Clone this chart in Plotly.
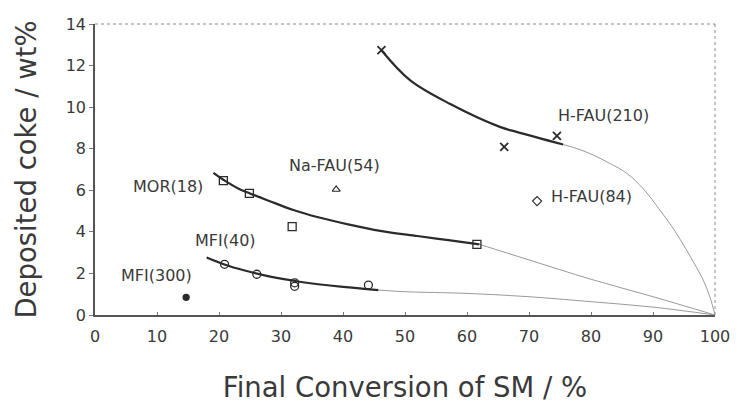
import plotly.graph_objects as go

# ---- data ----
hfau210_x = [46.2, 66.0, 74.5]
hfau210_y = [12.74, 8.09, 8.62]
mor18_x = [20.7, 24.9, 31.8, 61.6]
mor18_y = [6.46, 5.85, 4.25, 3.40]
mfi40_x = [20.9, 26.1, 32.2, 32.2, 44.1]
mfi40_y = [2.44, 1.96, 1.55, 1.38, 1.44]
nafau54_x = [38.9]
nafau54_y = [6.04]
hfau84_x = [71.3]
hfau84_y = [5.48]
mfi300_x = [14.7]
mfi300_y = [0.85]

# fitted trend curves (thick) and extrapolations to 100 % (thin)
hfau_fit_x = [46.2, 50.8, 57.3, 65.3, 68.0, 75.5]
hfau_fit_y = [12.74, 11.3, 10.15, 9.05, 8.81, 8.2]
hfau_ext_x = [75.5, 78.0, 80.4, 83.0, 85.8, 88.5, 91.1, 93.3, 95.4, 97.0, 98.1, 99.2, 100]
hfau_ext_y = [8.2, 7.98, 7.69, 7.3, 6.81, 6.05, 5.05, 4.15, 3.13, 2.3, 1.68, 0.85, 0]
mor_fit_x = [19.1, 21, 23, 25, 28, 32, 36, 41, 46, 52, 57, 62]
mor_fit_y = [6.84, 6.45, 6.1, 5.85, 5.5, 5.05, 4.7, 4.35, 4.05, 3.8, 3.6, 3.4]
mor_ext_x = [62, 70, 80, 90, 100]
mor_ext_y = [3.4, 2.65, 1.72, 0.88, 0]
mfi_fit_x = [18, 21, 24, 27, 30, 33, 36, 40, 45.7]
mfi_fit_y = [2.77, 2.42, 2.15, 1.93, 1.75, 1.6, 1.48, 1.35, 1.2]
mfi_ext_x = [45.7, 50, 60, 70, 80, 90, 100]
mfi_ext_y = [1.2, 1.12, 1.04, 0.88, 0.64, 0.38, 0]

labels = ["H-FAU(210)", "MOR(18)", "MFI(40)", "Na-FAU(54)", "H-FAU(84)", "MFI(300)"]
label_x = [82.0, 11.8, 21.0, 38.7, 80.1, 9.9]
label_y = [9.62, 6.17, 3.6, 7.2, 5.69, 1.92]

FONT = "DejaVu Sans"
DARK = "#2b2b2b"
THIN = "#9a9a9a"
TXT = "#3a3a3a"

fig = go.Figure()

for xs, ys in [(hfau_ext_x, hfau_ext_y), (mor_ext_x, mor_ext_y), (mfi_ext_x, mfi_ext_y)]:
    fig.add_trace(go.Scatter(x=xs, y=ys, mode="lines", line=dict(color=THIN, width=1, shape="spline"),
                             showlegend=False, hoverinfo="skip"))
for xs, ys in [(hfau_fit_x, hfau_fit_y), (mor_fit_x, mor_fit_y), (mfi_fit_x, mfi_fit_y)]:
    fig.add_trace(go.Scatter(x=xs, y=ys, mode="lines", line=dict(color=DARK, width=2.2, shape="spline"),
                             showlegend=False, hoverinfo="skip"))

def pts(xs, ys, symbol, size, name, width=1.3):
    fig.add_trace(go.Scatter(x=xs, y=ys, mode="markers", name=name, showlegend=False,
                             marker=dict(symbol=symbol, size=size, color=DARK,
                                         line=dict(color=DARK, width=width))))

fig.add_trace(go.Scatter(x=hfau210_x, y=hfau210_y, mode="markers", showlegend=False, name="H-FAU(210)",
                         marker=dict(symbol="x-thin", size=8, line=dict(color=DARK, width=1.8))))
pts(mor18_x, mor18_y, "square-open", 8, "MOR(18)")
pts(mfi40_x, mfi40_y, "circle-open", 8, "MFI(40)")
pts(nafau54_x, nafau54_y, "triangle-up-open", 7, "Na-FAU(54)", 1.1)
pts(hfau84_x, hfau84_y, "diamond-open", 7, "H-FAU(84)", 1.1)
pts(mfi300_x, mfi300_y, "circle", 6, "MFI(300)")

for t, x, y in zip(labels, label_x, label_y):
    fig.add_annotation(x=x, y=y, text=t, showarrow=False, xanchor="center", yanchor="middle",
                       font=dict(family=FONT, size=16, color=TXT))

# dotted top and right frame
fig.add_shape(type="line", xref="paper", yref="paper", x0=0, x1=1, y0=1, y1=1,
              line=dict(color="#8a8a8a", width=1, dash="dot"))
fig.add_shape(type="line", xref="paper", yref="paper", x0=1, x1=1, y0=0, y1=1,
              line=dict(color="#8a8a8a", width=1, dash="dot"))

fig.update_layout(
    width=744, height=403,
    margin=dict(l=95, r=29, t=24, b=88),
    paper_bgcolor="white", plot_bgcolor="white",
    font=dict(family=FONT, color=TXT),
    xaxis=dict(range=[0, 100], dtick=10, tick0=0, showgrid=False, zeroline=False, automargin=False,
               showline=True, linecolor="#555", linewidth=1.5,
               ticks="inside", ticklen=3, tickcolor="#777",
               tickfont=dict(size=16, family=FONT, color=TXT), ticklabelstandoff=6,
               title=dict(text="Final Conversion of SM / %", font=dict(size=27.5, family=FONT, color=TXT),
                          standoff=42)),
    yaxis=dict(range=[0, 14], dtick=2, tick0=0, showgrid=False, zeroline=False, automargin=False,
               showline=True, linecolor="#555", linewidth=1.5,
               ticks="outside", ticklen=4, tickcolor="#777",
               tickfont=dict(size=16, family=FONT, color=TXT),
               title=dict(text="Deposited coke / wt%", font=dict(size=27.5, family=FONT, color=TXT),
                          standoff=21)),
)

fig.write_html("out.html")
